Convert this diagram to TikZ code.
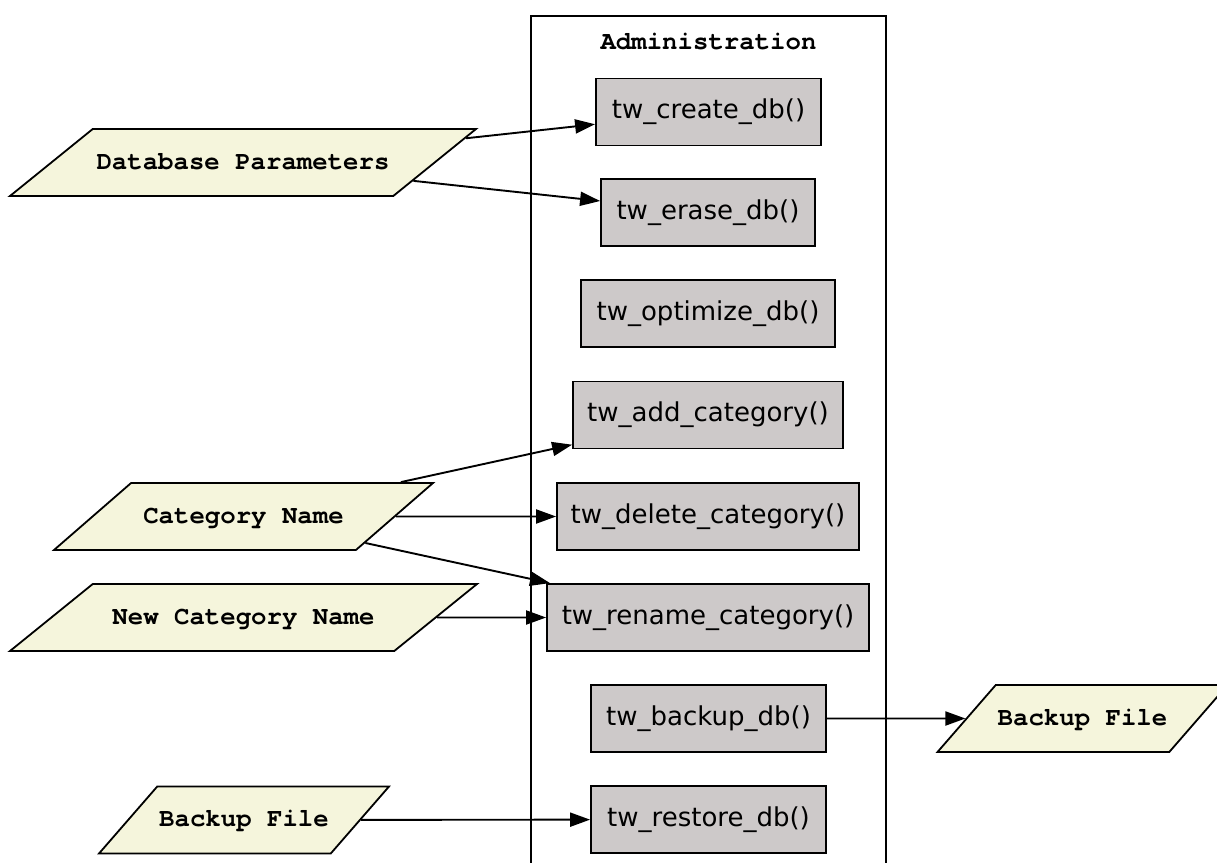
\documentclass[tikz,border=0pt]{standalone}
\usepackage{fontspec}
\setmainfont{DejaVu Sans}
\newfontfamily\codefont{texgyrecursor}[Extension=.otf, UprightFont=*-regular, BoldFont=*-bold]
\usetikzlibrary{shapes.geometric,arrows.meta}
\definecolor{boxgray}{HTML}{CDC9C9}
\definecolor{databeige}{HTML}{F5F5DC}
\tikzset{
  func/.style={draw=black, line width=1.8pt, fill=boxgray, minimum height=67pt,
    inner sep=0pt, font=\fontsize{26}{30}\selectfont},
  dataio/.style={draw=black, line width=1.8pt, fill=databeige, shape=trapezium,
    trapezium stretches body,
    text height=18pt, text depth=5pt, inner xsep=0pt, inner ysep=22pt,
    font=\codefont\bfseries\fontsize{25.7}{30}\selectfont},
  lean/.style 2 args={trapezium left angle=#1, trapezium right angle=#2},
  flow/.style={line width=1.9pt, -{Triangle[length=20pt,width=14pt]}},
  cluster/.style={draw=black, line width=1.6pt}
}
\begin{document}
\begin{tikzpicture}[x=1pt, y=-1pt]
\useasboundingbox (0,0) rectangle (1217,862);

% Administration cluster
\draw[cluster] (886,865) -- (886,16) -- (531,16) -- (531,865);
\node[font=\codefont\bfseries\fontsize{25.7}{30}\selectfont] (title) at (708.5,41) {Administration};

% Administration functions
\node[func, minimum width=225pt] (create)   at (708.5,112)   {tw\_create\_db()};
\node[func, minimum width=214pt] (erase)    at (708,212.5)   {tw\_erase\_db()};
\node[func, minimum width=254pt] (optimize) at (708,313.5)   {tw\_optimize\_db()};
\node[func, minimum width=270pt] (addcat)   at (708,415)     {tw\_add\_category()};
\node[func, minimum width=302pt] (delcat)   at (708,516.5)   {tw\_delete\_category()};
\node[func, minimum width=322pt] (rencat)   at (708,617.5)   {tw\_rename\_category()};
\node[func, minimum width=235pt] (backup)   at (708.5,718.5) {tw\_backup\_db()};
\node[func, minimum width=235pt] (restore)  at (708.5,819.5) {tw\_restore\_db()};

% Data inputs and outputs
\node[dataio, lean={39}{141}, minimum width=466pt] (dbparams) at (243,162.5)   {Database Parameters};
\node[dataio, lean={41}{139}, minimum width=379pt] (catname)  at (243.5,516.5) {Category Name};
\node[dataio, lean={39}{141}, minimum width=467pt] (newcat)   at (243.5,617.5) {New Category Name};
\node[dataio, lean={49}{131}, minimum width=290pt] (bkin)     at (244,820)     {Backup File};
\node[dataio, lean={49}{131}, minimum width=290pt] (bkout)    at (1082.5,718.5) {Backup File};

% Connectors
\draw[flow] (dbparams) -- (create);
\draw[flow] (dbparams) -- (erase);
\draw[flow] (catname) -- (addcat);
\draw[flow] (catname) -- (delcat);
\draw[flow] (catname) -- (rencat);
\draw[flow] (newcat) -- (rencat);
\draw[flow] (backup) -- (bkout);
\draw[flow] (bkin) -- (restore);
\end{tikzpicture}
\end{document}
